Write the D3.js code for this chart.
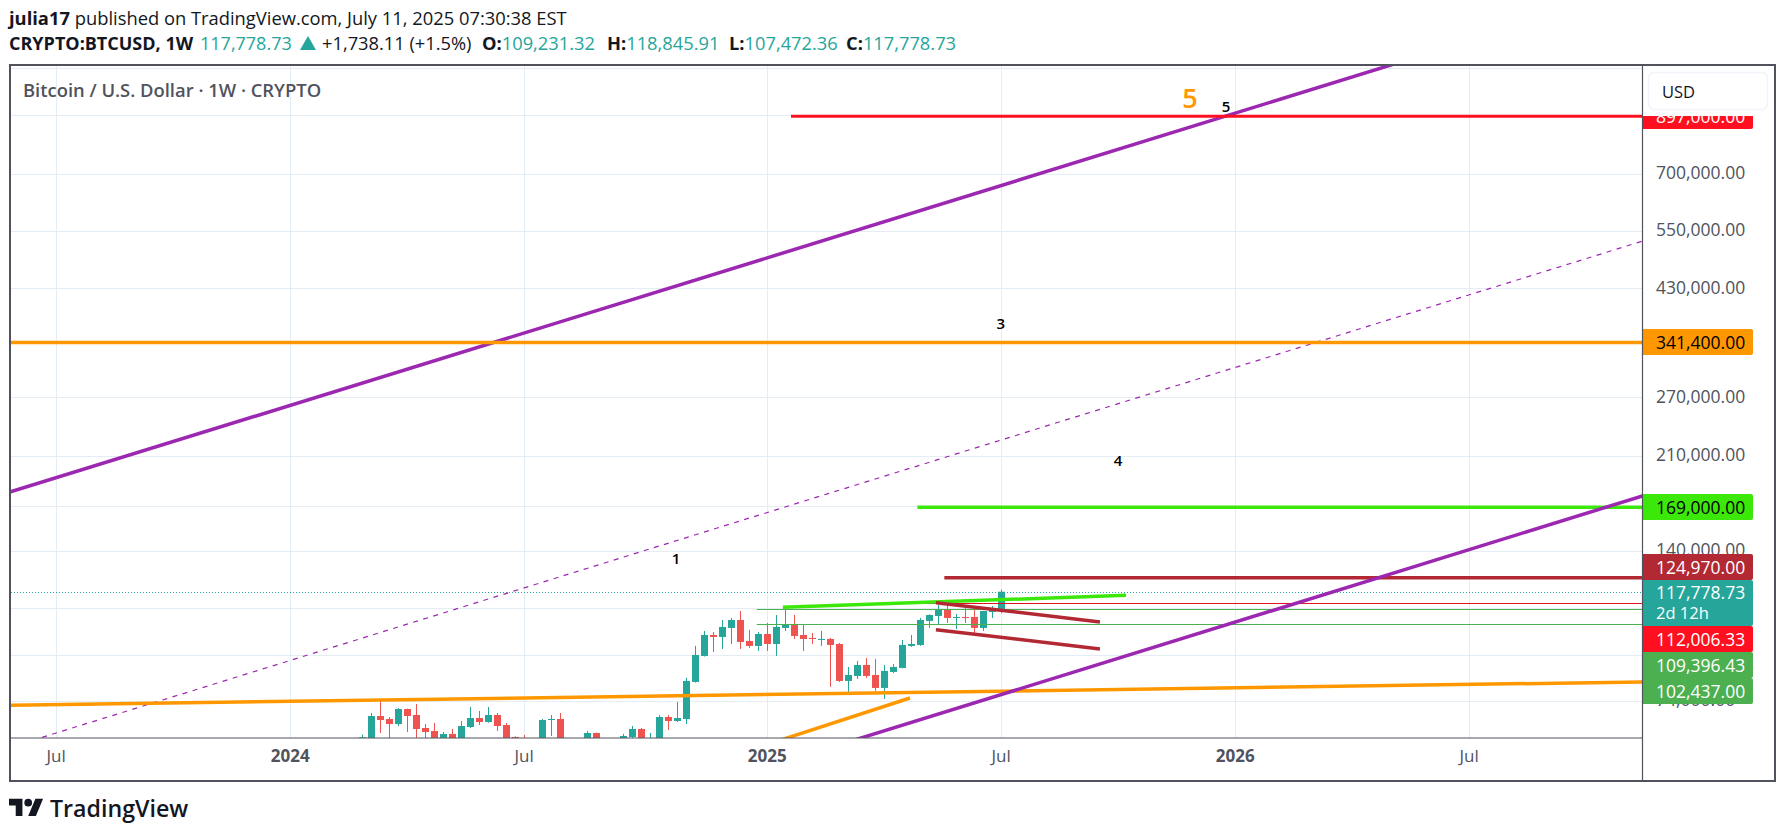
<!DOCTYPE html>
<html>
<head>
<meta charset="utf-8">
<script src="https://cdn.jsdelivr.net/npm/d3@7/dist/d3.min.js"></script>
<style>
html,body{margin:0;padding:0;background:#fff;overflow:hidden}
svg{display:block;font-family:"Open Sans","Noto Sans",sans-serif}
</style>
</head>
<body>
<svg id="c" width="1785" height="836"></svg>
<script>
// ---------- data ----------
const lastBar = "2025-07-07";
const opens  = [51700,62500,69270,68390,66940,71370,69570,65810,64980,61300,64160,60900,66090,68680,67520,69570,66660,63340,62500,58200,60800,68100,68390,58100,58700,58900,64430,57300,54900,60500,63340,65540,60700,62800,68980,67810,68390,80116,89520,97915,97083,100885,104390,95439,93424,98334,94225,100885,102185,97915,96669,95847,96257,94225,80459,82195,86147,82547,78089,83610,85050,93424,93824,103945,106186,108940,105284,105734,105734,100885,108014,109231.32];
const highs  = [64020,70170,73850,68980,71680,71500,72910,66940,67230,64700,65540,67810,71980,70770,71980,70170,67230,63500,63880,62000,68390,69570,70170,62700,61500,64980,64500,59800,60600,64160,66380,65810,64430,69570,69570,73530,81496,93424,99601,99177,104390,105284,108476,100027,99177,103061,106640,109406,106640,102185,98755,99601,96669,94628,85414,87630,88759,88381,86147,86515,95847,97915,105284,106900,111290,111290,107096,110344,108940,108600,110816,118845.91];
const lows   = [50900,60800,64430,62300,66380,64700,60700,60000,59600,60600,56600,60100,65800,66660,67300,64980,60000,58400,53500,53700,59800,63610,49100,54600,56100,57800,57100,52500,53600,57500,62700,60000,58900,62400,65260,67520,66940,79900,89300,91062,92235,94225,92235,92630,91451,91451,89520,99601,96257,91451,94225,93424,78423,80116,76767,81149,81496,77095,74508,83254,84900,93026,93424,100885,102622,103061,100455,103061,98755,99601,105284,107472.36];
const closes = [63260,69270,68100,66940,71370,69270,65540,64700,62000,64160,60900,66380,68680,67520,69570,66380,60300,60000,58200,57000,68100,68390,58100,58700,58900,64430,57300,54100,60500,63610,65540,60700,62800,68980,67810,68680,80459,89903,97915,97083,101317,104390,95033,93424,98334,94225,101317,102185,97498,96257,96257,96257,93824,80459,82547,86147,82195,78089,83968,85414,93824,94225,104390,106640,109406,105284,105734,105284,100885,108476,108940,117778.73];

const gridPrices = [1100000,900000,700000,550000,430000,340000,270000,210000,170000,140000,110000,90000,74000];
const axisPrices = [700000,550000,430000,270000,210000,140000,74000];
const timeTickDates  = ["2023-07-03","2024-01-01","2024-07-01","2025-01-06","2025-07-07","2026-01-05","2026-07-06"];
const timeTickLabels = ["Jul","2024","Jul","2025","Jul","2026","Jul"];

// drawings: anchors in weeks relative to the last bar, and prices
const lineColors = ["#9c27b0","#9c27b0","#ff9800","#ff9800","#ff9800","#ff1020","#3ce80a","#b22833","#e01420","#4caf50","#4caf50","#3ce80a","#b22833","#b22833"];
const lineWidths = [3.5,1.2,3.5,3.5,3.5,3.2,3.5,3.5,1,1,1,3.5,3.5,3.5];
const lineDashes = [null,"5 5.5",null,null,null,null,null,null,null,null,null,null,null,null];
const lineW1 = [-112.08,-108.74,-112.08,-112.08,-24.97,-23.3,-9.26,-6.26,-10.2,-27.1,-27.1,-24.2,-7.19,-7.19];
const lineP1 = [176050,61580,72420,341400,62100,897000,169000,124970,112006.33,109396.43,102437,110190,112390,100140];
const lineW2 = [45.37,73.37,73.37,73.37,-10.08,73.37,73.37,73.37,73.37,73.37,73.37,13.92,11.03,11.03];
const lineP2 = [1143300,539300,80210,341400,74820,897000,169000,124970,112006.33,109396.43,102437,115950,103500,92220];
// channel lower rail
const railW = [-17.52,73.37], railP = [61580,181700];

const noteTexts = ["1","3","4","5","5"];
const noteWeeks = [-36.08,0,13.03,25.03,21.03];
const notePrices = [136000,371000,206700,937000,969600];
const noteColors = ["#000","#000","#000","#000","#ff9800"];
const noteSizes = [15,15,15,15,27];

const badgeValues = [897000,341400,169000,124970,117778.73,112006.33,109396.43,102437];
const badgeFills  = ["#ff0f1f","#ff9800","#3ce80a","#b22833","#26a69a","#ff0f1f","#4caf50","#4caf50"];
const badgeInks   = ["#fff","#000","#000","#fff","#fff","#fff","#fff","#fff"];
const countdown = "2d 12h";

// ---------- layout ----------
const L=11,R=1642,T=66,B=738;
const AX=1643;
const svg=d3.select("#c");
const x=d3.scaleUtc().domain([new Date("2023-07-03"),new Date("2026-07-06")]).range([55.7,1468.7]);
const y=d3.scaleLog().domain([700000,90000]).range([174.3,654.7]);
const last=new Date(lastBar);
const at=w=>d3.utcHour.offset(last,Math.round(w*168));
const axisInk="#50535e", gridInk="#e3edf3";
const snap=v=>Math.round(v)+.5;

svg.append("defs").append("clipPath").attr("id","pane").append("rect")
  .attr("x",L).attr("y",T).attr("width",R-L).attr("height",B-T);
const pane=svg.append("g").attr("clip-path","url(#pane)");

// grid
pane.append("g").selectAll("line").data(gridPrices).join("line")
  .attr("x1",L).attr("x2",R).attr("y1",d=>snap(y(d))).attr("y2",d=>snap(y(d)))
  .attr("stroke",gridInk).attr("stroke-width",1);
pane.append("g").selectAll("line").data(timeTickDates).join("line")
  .attr("y1",T).attr("y2",B).attr("x1",d=>snap(x(new Date(d)))).attr("x2",d=>snap(x(new Date(d))))
  .attr("stroke",gridInk).attr("stroke-width",1);

// last price dotted
const lastY=snap(y(closes[closes.length-1]));
pane.append("line").attr("x1",L).attr("x2",R).attr("y1",lastY).attr("y2",lastY)
  .attr("stroke","#26a69a").attr("stroke-width",1).attr("stroke-dasharray","1 2");

// candles
const idx=d3.range(opens.length);
const n=opens.length-1;
const cx=i=>x(at(i-n));
const col=i=>closes[i]>=opens[i]?"#26a69a":"#ef5350";
const cg=pane.append("g");
cg.selectAll("line").data(idx).join("line")
  .attr("x1",i=>Math.round(cx(i))+.5).attr("x2",i=>Math.round(cx(i))+.5)
  .attr("y1",i=>y(highs[i])).attr("y2",i=>y(lows[i]))
  .attr("stroke",col).attr("stroke-width",1);
cg.selectAll("rect").data(idx).join("rect")
  .attr("x",i=>Math.round(cx(i))-3).attr("width",7)
  .attr("y",i=>y(Math.max(opens[i],closes[i])))
  .attr("height",i=>Math.max(1,Math.abs(y(opens[i])-y(closes[i]))))
  .attr("fill",col);

// drawings
const drawn=d3.range(lineColors.length);
const lineY=(p,i)=>lineWidths[i]<=1&&lineP1[i]===lineP2[i]?snap(y(p)):y(p);
pane.append("g").selectAll("line").data(drawn).join("line")
  .attr("x1",i=>x(at(lineW1[i]))).attr("y1",i=>lineY(lineP1[i],i))
  .attr("x2",i=>x(at(lineW2[i]))).attr("y2",i=>lineY(lineP2[i],i))
  .attr("stroke",i=>lineColors[i]).attr("stroke-width",i=>lineWidths[i])
  .attr("stroke-dasharray",i=>lineDashes[i]);
pane.append("line")
  .attr("x1",x(at(railW[0]))).attr("y1",y(railP[0])).attr("x2",x(at(railW[1]))).attr("y2",y(railP[1]))
  .attr("stroke","#9c27b0").attr("stroke-width",3.5);

// notes
pane.append("g").selectAll("text").data(noteTexts).join("text")
  .text(d=>d)
  .attr("x",(d,i)=>x(at(noteWeeks[i]))).attr("y",(d,i)=>y(notePrices[i]))
  .attr("text-anchor","middle").attr("dominant-baseline","central")
  .attr("fill",(d,i)=>noteColors[i]).attr("font-size",(d,i)=>noteSizes[i])
  .attr("font-weight",600);

// pane title
svg.append("text").text("Bitcoin / U.S. Dollar · 1W · CRYPTO")
  .attr("x",23).attr("y",97).attr("font-size",18.4).attr("font-weight",600).attr("fill",axisInk);

// axes
const fs=17.5;
const xa=svg.append("g").attr("transform",`translate(0,${B})`)
  .call(d3.axisBottom(x).tickValues(timeTickDates.map(d=>new Date(d))).tickSize(0).tickPadding(12)
    .tickFormat((d,i)=>timeTickLabels[i]));
xa.select(".domain").remove();
xa.selectAll("text").attr("font-size",17).attr("fill",axisInk).attr("font-family",'"Open Sans",sans-serif')
  .attr("font-weight",(d,i)=>i%2?700:400);

const ya=svg.append("g").attr("transform",`translate(${AX},-1)`)
  .call(d3.axisRight(y).tickValues(axisPrices).tickSize(0).tickPadding(13).tickFormat(d3.format(",.2f")));
ya.select(".domain").remove();
ya.selectAll("text").attr("font-size",fs).attr("fill",axisInk).attr("font-family",'"Open Sans",sans-serif');

// price badges
const H=26;
const tealTop=Math.round(y(117778.73))-12, tealH=46;
const boxTop=v=>{
  if(v===124970) return tealTop-H;
  if(v===117778.73) return tealTop;
  if(v===112006.33) return tealTop+tealH;
  if(v===109396.43) return tealTop+tealH+H;
  if(v===102437) return tealTop+tealH+2*H;
  return Math.round(y(v))-H/2;
};
const bg=svg.append("g");
const boxes=bg.selectAll("g").data(badgeValues).join("g");
boxes.append("path").attr("fill",(d,i)=>badgeFills[i])
  .attr("d",d=>{const t=boxTop(d),h=d===117778.73?tealH:H,w=110,r=2;
    return `M${AX} ${t}h${w-r}q${r} 0 ${r} ${r}v${h-2*r}q0 ${r} ${-r} ${r}h${-(w-r)}z`;});
boxes.append("text").text(d=>d3.format(",.2f")(d))
  .attr("x",AX+13).attr("y",d=>boxTop(d)+H/2-(d===117778.73?1:0))
  .attr("dominant-baseline","central").attr("font-size",fs).attr("fill",(d,i)=>badgeInks[i]);
svg.append("text").text(countdown).attr("x",AX+13).attr("y",tealTop+32)
  .attr("dominant-baseline","central").attr("font-size",fs-1).attr("fill","#fff");

// currency button over the axis
svg.append("rect").attr("x",AX-1).attr("y",T).attr("width",131).attr("height",50).attr("fill","#fff");
svg.append("rect").attr("x",1648.5).attr("y",72.5).attr("width",119).attr("height",37).attr("rx",6)
  .attr("fill","#fff").attr("stroke","#f0f3fa").attr("stroke-width",1.5);
svg.append("text").text("USD").attr("x",1662).attr("y",91).attr("dominant-baseline","central")
  .attr("font-size",16.5).attr("fill","#131722");

// frame
svg.append("rect").attr("x",10).attr("y",65).attr("width",1765).attr("height",716)
  .attr("fill","none").attr("stroke",axisInk).attr("stroke-width",2);
svg.append("line").attr("x1",AX-.5).attr("x2",AX-.5).attr("y1",65).attr("y2",781).attr("stroke",axisInk).attr("stroke-width",1.2);
svg.append("line").attr("x1",10).attr("x2",AX).attr("y1",B).attr("y2",B).attr("stroke",axisInk).attr("stroke-width",1.2);

// header
const ink="#131722", teal="#26a69a";
const h1=svg.append("text").attr("x",9).attr("y",25).attr("font-size",18.35).attr("fill",ink);
h1.append("tspan").text("julia17").attr("font-weight",700);
h1.append("tspan").text(" published on TradingView.com, July 11, 2025 07:30:38 EST");
const h2=svg.append("text").attr("x",9).attr("y",50).attr("font-size",18).attr("fill",ink);
h2.append("tspan").text("CRYPTO:BTCUSD, 1W").attr("font-weight",700);
h2.append("tspan").text("117,778.73").attr("x",200).attr("fill",teal);
svg.append("path").attr("d","M300 50L308 36L316 50Z").attr("fill",teal);
const h3=svg.append("text").attr("x",322).attr("y",50).attr("font-size",18.3).attr("fill",ink);
h3.append("tspan").text("+1,738.11 (+1.5%)");
[["O:","109,231.32",482],["H:","118,845.91",607],["L:","107,472.36",729],["C:","117,778.73",846]].forEach(([a,b,px])=>{
  h3.append("tspan").text(a).attr("x",px).attr("font-weight",700);
  h3.append("tspan").text(b).attr("fill",teal);
});

// brand
const logo=svg.append("g").attr("transform","translate(9,795) scale(.96)").attr("fill",ink);
logo.append("path").attr("d","M14 22H7V11H0V4h14v18zM28 22h-8l7.5-18h8L28 22z");
logo.append("circle").attr("cx",20).attr("cy",8).attr("r",4);
svg.append("text").text("TradingView").attr("x",50).attr("y",817).attr("font-size",23.2).attr("font-weight",600).attr("fill",ink);
</script>
</body>
</html>
